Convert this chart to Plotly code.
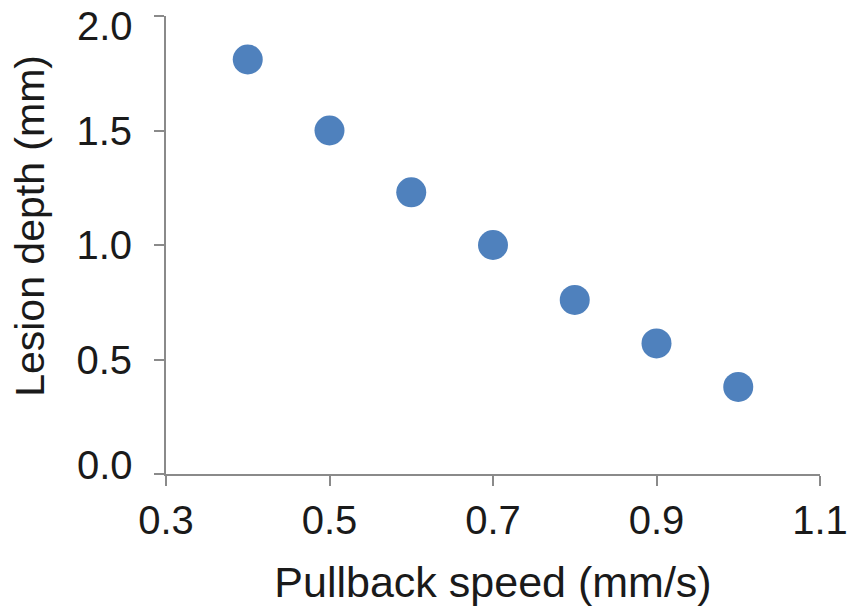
import plotly.graph_objects as go

speed = [0.4, 0.5, 0.6, 0.7, 0.8, 0.9, 1.0]
depth = [1.81, 1.50, 1.23, 1.00, 0.76, 0.57, 0.38]
x_ticks = [0.3, 0.5, 0.7, 0.9, 1.1]
x_tick_labels = ["0.3", "0.5", "0.7", "0.9", "1.1"]
y_ticks = [0.0, 0.5, 1.0, 1.5, 2.0]
y_tick_labels = ["0.0", "0.5", "1.0", "1.5", "2.0"]

fig = go.Figure(go.Scatter(
    x=speed, y=depth, mode="markers",
    marker=dict(size=30, color="#4F81BD", line=dict(width=0)),
    cliponaxis=False,
))

font = "Liberation Sans, Arial, sans-serif"
txt = "#1a1a1a"
axis_common = dict(
    showline=True, linecolor="#8a8a8a", linewidth=2,
    ticks="outside", ticklen=10, tickwidth=2, tickcolor="#8a8a8a",
    showgrid=False, zeroline=False, automargin=False,
    ticklabeloverflow="allow",
    tickfont=dict(family=font, size=40, color=txt),
)

# end labels of the y axis are nudged inward (as in the reference)
y_text = [t if 0 < i < len(y_ticks) - 1 else "" for i, t in enumerate(y_tick_labels)]
annotations = []
for v, t in zip(y_ticks, y_tick_labels):
    if v == y_ticks[0] or v == y_ticks[-1]:
        annotations.append(dict(
            x=0, xref="paper", y=v, yref="y", text=t, showarrow=False,
            xanchor="right", yanchor="middle", xshift=-32, borderpad=0,
            yshift=9 if v == y_ticks[0] else -10,
            font=dict(family=font, size=40, color=txt),
        ))
annotations.append(dict(
    x=-0.207, xref="paper", y=0.541, yref="paper", text="Lesion depth (mm)",
    textangle=-90, showarrow=False, xanchor="center", yanchor="middle",
    font=dict(family=font, size=41, color=txt),
))

fig.update_layout(
    width=851, height=609,
    margin=dict(l=166, r=31, t=16, b=135),
    paper_bgcolor="white", plot_bgcolor="white",
    showlegend=False,
    xaxis=dict(range=[0.3, 1.1], tickvals=x_ticks, ticktext=x_tick_labels,
               ticklabelstandoff=0,
               title=dict(text="Pullback speed (mm/s)", standoff=26,
                          font=dict(family=font, size=43, color=txt)),
               **axis_common),
    yaxis=dict(range=[0, 2.0], tickvals=y_ticks, ticktext=y_text,
               ticklabelstandoff=14, **axis_common),
    annotations=annotations,
)

fig.write_html("out.html", config={"displayModeBar": False},
               post_script="document.body.style.margin='0px';")
